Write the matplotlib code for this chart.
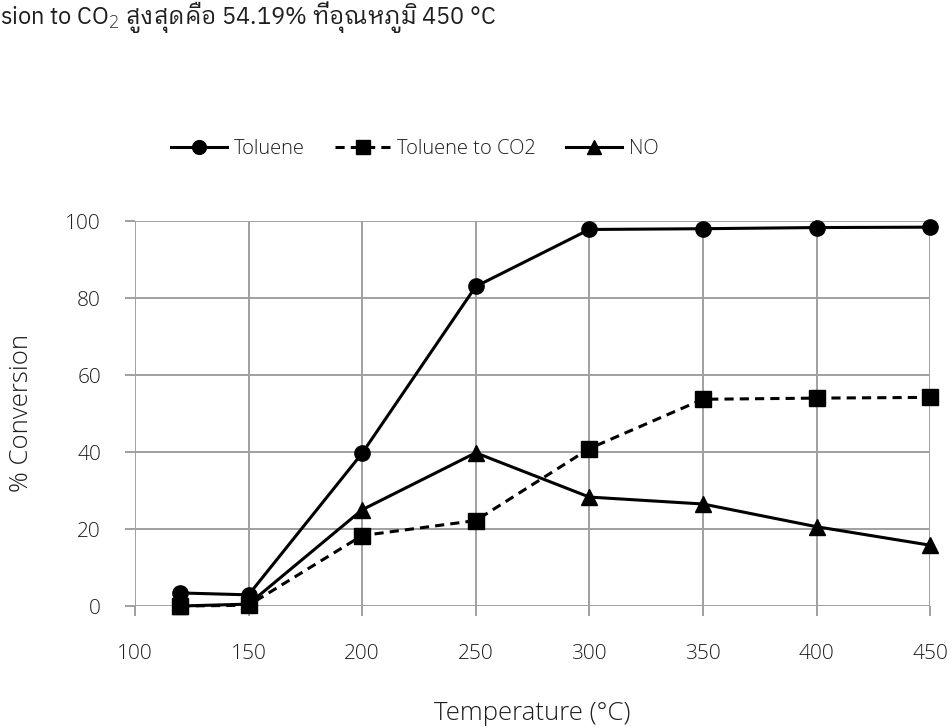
import matplotlib
matplotlib.use('Agg')
import matplotlib.pyplot as plt

temps = [120, 150, 200, 250, 300, 350, 400, 450]
toluene = [3.4, 2.9, 39.7, 83.0, 97.8, 98.0, 98.3, 98.4]
toluene_co2 = [0.0, 0.2, 18.3, 22.2, 40.9, 53.7, 54.0, 54.19]
no_conv = [0.0, 0.5, 25.0, 39.8, 28.3, 26.5, 20.6, 15.8]

x_ticks = [100, 150, 200, 250, 300, 350, 400, 450]
y_ticks = [0, 20, 40, 60, 80, 100]

plt.rcParams['font.family'] = ['Open Sans', 'DejaVu Sans']
plt.rcParams['font.weight'] = 'light'
text_col = '#1e1e1e'
grid_col = '#a0a0a0'

fig = plt.figure(figsize=(9.52, 7.27), dpi=100)
ax = fig.add_axes([0.1418, 0.1664, 0.977 - 0.1418, 0.696 - 0.1664])

ax.plot(temps, toluene, color='black', lw=2.2, marker='o', ms=11,
        label='Toluene', zorder=3, clip_on=False)
ax.plot(temps, toluene_co2, color='black', lw=2.2, ls=(0, (3, 2)), marker='s', ms=11.5,
        label='Toluene to CO2', zorder=3, clip_on=False)
ax.plot(temps, no_conv, color='black', lw=2.2, marker='^', ms=11.5,
        label='NO', zorder=3, clip_on=False)

ax.set_xlim(100, 450)
ax.set_ylim(0, 100)
ax.set_xticks(x_ticks)
ax.set_yticks(y_ticks)
ax.grid(True, color=grid_col, lw=1.4)
ax.set_axisbelow(True)
for s in ax.spines.values():
    s.set_visible(False)
ax.tick_params(length=7.5, width=1.4, color=grid_col, labelsize=15, labelcolor=text_col)
ax.tick_params(axis='y', pad=17)
ax.tick_params(axis='x', pad=20)

# axis titles
fig.text(0.559, 0.0096, 'Temperature (°C)', fontsize=18.5, color=text_col,
         ha='center', va='baseline')
fig.text(0.023, 0.432, '% Conversion', fontsize=18.5, color=text_col,
         ha='center', va='center', rotation=90)

ax.legend(loc='center', bbox_to_anchor=(0.352, 1.188), ncol=3, frameon=False,
          fontsize=14.5, handlelength=2.75, columnspacing=1.5, handletextpad=0.35,
          labelcolor=text_col, markerscale=0.9)

# cropped line of the page text above the chart
fig.text(0.0, 1 - 24 / 727, 'sion to CO$_2$ สูงสุดคือ 54.19% ที่อุณหภูมิ 450 °C',
         fontsize=17, color=text_col, va='baseline', ha='left', fontweight='normal',
         family=['IBM Plex Sans Thai Looped', 'IBM Plex Sans Thai', 'DejaVu Sans'])

fig.savefig('out.png', dpi=100)
